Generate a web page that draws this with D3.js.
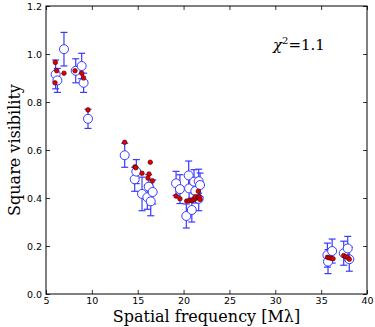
<!DOCTYPE html>
<html>
<head>
<meta charset="utf-8">
<script src="https://cdn.jsdelivr.net/npm/d3@7"></script>
<style>
  body { margin: 0; background: #fff; }
  svg { display: block; }
</style>
</head>
<body>
<div id="chart"></div>
<script>
// observed squared visibilities (open circles with error bars)
var obsFreq = [6.05, 6.24, 6.96, 8.24, 8.89, 9.10, 9.58,
  13.58, 14.67, 14.85, 15.47, 16.05, 16.20, 16.42, 16.63,
  19.18, 19.60, 20.30, 20.56, 20.60, 20.90, 21.14, 21.28, 21.65, 21.65, 21.80,
  35.68, 35.75, 36.20, 37.46, 37.90, 38.07];
var obsVis = [0.915, 0.89, 1.02, 0.93, 0.95, 0.88, 0.73,
  0.578, 0.478, 0.51, 0.417, 0.403, 0.447, 0.386, 0.425,
  0.461, 0.437, 0.325, 0.494, 0.44, 0.35, 0.468, 0.429, 0.47, 0.397, 0.454,
  0.162, 0.135, 0.179, 0.17, 0.19, 0.145];
var obsErr = [0.06, 0.05, 0.07, 0.05, 0.053, 0.04, 0.04,
  0.05, 0.05, 0.05, 0.07, 0.05, 0.05, 0.06, 0.05,
  0.05, 0.06, 0.05, 0.06, 0.05, 0.05, 0.05, 0.05, 0.05, 0.05, 0.05,
  0.05, 0.05, 0.05, 0.05, 0.05, 0.05];

// model values (red dots)
var modFreq = [6.02, 6.17, 5.98, 6.96, 8.16, 8.89, 9.10, 9.58,
  13.58, 14.70, 14.80, 15.47, 16.37, 16.23, 16.12, 16.60,
  19.18, 19.60, 20.34, 20.63, 20.92, 21.14, 21.36, 21.25, 21.58, 21.72, 21.80, 21.61,
  35.68, 35.87, 36.08, 36.30, 37.46, 37.68, 37.90, 38.07];
var modVis = [0.965, 0.93, 0.88, 0.92, 0.93, 0.92, 0.90, 0.767,
  0.632, 0.53, 0.526, 0.503, 0.549, 0.50, 0.483, 0.472,
  0.408, 0.397, 0.3875, 0.389, 0.389, 0.394, 0.399, 0.405, 0.403, 0.405, 0.394, 0.428,
  0.153, 0.151, 0.149, 0.147, 0.16, 0.155, 0.153, 0.145];

var xTicks = [5, 10, 15, 20, 25, 30, 35, 40];
var yTicks = [0.0, 0.2, 0.4, 0.6, 0.8, 1.0, 1.2];

var svgWidth = 375;
var svgHeight = 327;
var margin = { top: 6, right: 8, bottom: 33, left: 46 };
var chartWidth = svgWidth - margin.left - margin.right;
var chartHeight = svgHeight - margin.top - margin.bottom;

var svg = d3.select("#chart").append("svg")
  .attr("width", svgWidth)
  .attr("height", svgHeight);

var chartGroup = svg.append("g")
  .attr("transform", `translate(${margin.left}, ${margin.top})`);

var xScale = d3.scaleLinear().domain([5, 40]).range([0, chartWidth]);
var yScale = d3.scaleLinear().domain([0, 1.2]).range([chartHeight, 0]);

// axes, ticks inward on all four sides
function styleAxis(g) {
  g.select(".domain").remove();
  g.selectAll("line").attr("stroke", "#000").attr("stroke-width", 0.8);
  g.selectAll("text")
    .attr("font-family", "DejaVu Sans, sans-serif")
    .attr("font-size", "9.5px")
    .attr("fill", "#000");
}

chartGroup.append("g")
  .attr("transform", `translate(0, ${chartHeight})`)
  .call(d3.axisBottom(xScale).tickValues(xTicks).tickSizeInner(-4).tickPadding(3).tickFormat(d3.format("d")))
  .call(styleAxis);

chartGroup.append("g")
  .call(d3.axisTop(xScale).tickValues(xTicks).tickSizeInner(-4).tickFormat(""))
  .call(styleAxis);

chartGroup.append("g")
  .call(d3.axisLeft(yScale).tickValues(yTicks).tickSizeInner(-4).tickPadding(4).tickFormat(d3.format(".1f")))
  .call(styleAxis);

chartGroup.append("g")
  .attr("transform", `translate(${chartWidth}, 0)`)
  .call(d3.axisRight(yScale).tickValues(yTicks).tickSizeInner(-4).tickFormat(""))
  .call(styleAxis);

chartGroup.append("rect")
  .attr("x", 0).attr("y", 0)
  .attr("width", chartWidth).attr("height", chartHeight)
  .attr("fill", "none")
  .attr("stroke", "#000")
  .attr("stroke-width", 1);

// observed data with error bars
var obs = obsFreq.map((f, i) => ({ f: f, v: obsVis[i], e: obsErr[i] }));
var blue = "#3a3aff";

var errGroup = chartGroup.append("g");
errGroup.selectAll("line.bar")
  .data(obs).enter().append("line")
  .attr("x1", d => xScale(d.f)).attr("x2", d => xScale(d.f))
  .attr("y1", d => yScale(d.v - d.e)).attr("y2", d => yScale(d.v + d.e))
  .attr("stroke", blue).attr("stroke-width", 1.2);
[-1, 1].forEach(function(s) {
  errGroup.selectAll(null)
    .data(obs).enter().append("line")
    .attr("x1", d => xScale(d.f) - 3.5).attr("x2", d => xScale(d.f) + 3.5)
    .attr("y1", d => yScale(d.v + s * d.e)).attr("y2", d => yScale(d.v + s * d.e))
    .attr("stroke", blue).attr("stroke-width", 1.2);
});

chartGroup.append("g").selectAll("circle")
  .data(obs).enter().append("circle")
  .attr("cx", d => xScale(d.f))
  .attr("cy", d => yScale(d.v))
  .attr("r", 4.5)
  .attr("fill", "#fff")
  .attr("stroke", blue)
  .attr("stroke-width", 1);

// model points
var mod = modFreq.map((f, i) => ({ f: f, v: modVis[i] }));
chartGroup.append("g").selectAll("circle")
  .data(mod).enter().append("circle")
  .attr("cx", d => xScale(d.f))
  .attr("cy", d => yScale(d.v))
  .attr("r", 2.3)
  .attr("fill", "#e00000")
  .attr("stroke", "#400000")
  .attr("stroke-width", 0.6);

// labels
svg.append("text")
  .attr("x", margin.left + chartWidth / 2)
  .attr("y", 322)
  .attr("text-anchor", "middle")
  .attr("font-family", "DejaVu Serif, Liberation Serif, serif")
  .attr("font-size", "16px")
  .text("Spatial frequency [Mλ]");

svg.append("text")
  .attr("transform", `translate(20, ${margin.top + chartHeight / 2}) rotate(-90)`)
  .attr("text-anchor", "middle")
  .attr("font-family", "DejaVu Serif, Liberation Serif, serif")
  .attr("font-size", "16px")
  .text("Square visibility");

var chi = svg.append("text")
  .attr("x", 273)
  .attr("y", 50)
  .attr("font-family", "DejaVu Serif, Liberation Serif, serif")
  .attr("font-size", "15px");
chi.append("tspan").attr("font-style", "italic").text("χ");
chi.append("tspan").attr("dy", -6).attr("font-size", "10px").text("2");
chi.append("tspan").attr("dy", 6).text("=1.1");
</script>
</body>
</html>
